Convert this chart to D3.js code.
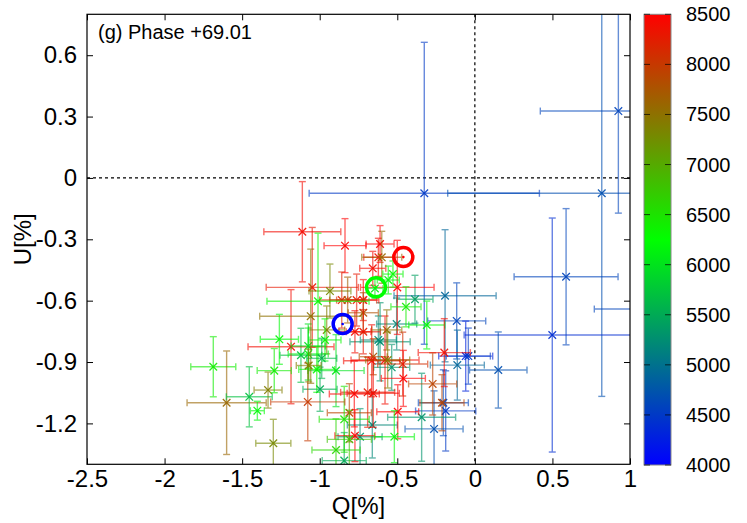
<!DOCTYPE html>
<html><head><meta charset="utf-8">
<script src="https://cdn.jsdelivr.net/npm/d3@7"></script>
<style>
body{margin:0;background:#fff;}
svg{display:block;font-family:"Liberation Sans",Arial,Helvetica,sans-serif;}
</style></head>
<body><svg id="c" width="747" height="523"></svg>
<script>
// ---- data ----
const Q  = [-0.326,0.818,0.925,0.588,0.499,0.151,1.12,-0.192,-0.117,-0.059,-0.042,-0.113,-0.188,-0.203,-0.212,-0.263,-0.343,-0.611,-0.386,-0.504,-0.536,-0.661,-0.740,-0.622,-0.842,-0.998,-1.121,-1.112,-1.048,-1.185,-0.837,-0.611,-0.622,-0.600,-0.658,-0.500,-0.528,-0.558,-0.644,-0.934,-0.858,-0.762,-0.820,-0.719,-0.444,-0.310,-0.719,-0.719,-0.773,-0.955,-0.568,-0.966,-0.655,-0.665,-0.579,-0.562,-0.465,-0.461,-0.272,-0.197,-0.895,-0.777,-0.691,-0.655,-0.809,-0.842,-0.497,-0.773,-0.809,-0.519,-0.895,-1.077,-1.019,-1.074,-1.074,-1.011,-1.058,-1.260,-1.686,-1.600,-1.454,-1.333,-1.402,-1.299,-1.293,-0.987,-1.071];
const U  = [-0.075,-0.075,0.327,-0.483,-0.768,-0.939,-0.641,-0.576,-0.699,-0.871,-0.871,-0.915,-1.139,-1.099,-1.099,-1.227,-1.170,-0.801,-0.593,-0.714,-0.926,-1.208,-1.265,-0.792,-1.382,-1.033,-0.867,-0.263,-0.535,-0.825,-0.331,-0.323,-0.388,-0.388,-0.442,-0.535,-0.470,-0.499,-0.540,-0.553,-0.597,-0.597,-0.597,-0.597,-0.630,-0.719,-0.659,-0.752,-0.752,-0.743,-0.743,-0.792,-0.874,-0.894,-0.890,-0.890,-0.910,-0.980,-1.007,-0.854,-0.942,-1.056,-1.048,-1.053,-1.148,-1.180,-1.143,-1.260,-1.278,-1.265,-1.330,-1.095,-0.936,-0.861,-0.822,-0.603,-0.676,-0.789,-0.923,-1.099,-1.070,-1.037,-1.138,-1.297,-0.942,-0.882,-0.917];
const dQ = [0.742,0.993,0.503,0.335,0.568,0.185,0.35,0.329,0.187,0.174,0.142,0.174,0.194,0.161,0.142,0.187,0.219,0.194,0.116,0.129,0.116,0.161,0.142,0.116,0.142,0.110,0.135,0.248,0.297,0.277,0.135,0.09,0.094,0.129,0.084,0.237,0.065,0.071,0.052,0.135,0.142,0.129,0.116,0.10,0.097,0.116,0.097,0.110,0.103,0.116,0.097,0.103,0.090,0.181,0.219,0.142,0.161,0.142,0.155,0.168,0.181,0.161,0.174,0.168,0.142,0.161,0.135,0.129,0.142,0.129,0.155,0.239,0.116,0.129,0.110,0.329,0.329,0.123,0.145,0.255,0.148,0.090,0.045,0.113,0.110,0.097,0.08];
const dU = [0.738,0.993,0.499,0.333,0.572,0.186,0.35,0.323,0.186,0.171,0.137,0.171,0.196,0.161,0.137,0.186,0.215,0.191,0.117,0.127,0.112,0.161,0.137,0.117,0.137,0.108,0.132,0.245,0.293,0.279,0.132,0.09,0.093,0.127,0.083,0.230,0.064,0.068,0.049,0.132,0.137,0.127,0.112,0.10,0.098,0.117,0.098,0.108,0.103,0.117,0.098,0.103,0.088,0.176,0.215,0.137,0.156,0.137,0.152,0.166,0.176,0.161,0.171,0.166,0.142,0.161,0.132,0.127,0.142,0.127,0.152,0.19,0.112,0.127,0.108,0.333,0.328,0.122,0.147,0.253,0.147,0.088,0.046,0.117,0.108,0.098,0.08];
const wl = [4500,4700,4600,4600,4400,4700,4600,4900,4600,4300,4500,4900,4500,4600,7900,4700,5300,5300,5400,5200,5300,5200,5300,5200,5500,5500,5700,8400,8300,8400,8500,8500,8400,7600,8400,8500,6300,6200,6100,7300,8200,8300,7700,8400,6400,6200,7800,8300,8400,7400,7500,6300,7800,8400,8400,7400,8100,8500,7900,8400,6000,8500,8300,8400,7900,6500,8500,8500,6800,6200,6600,8000,6300,6100,6000,6300,7500,6200,6400,7600,5700,7400,6200,7300,6400,5600,7400];
// band-averaged open circles
const circQ  = [-0.461,-0.637,-0.852];
const circU  = [-0.387,-0.535,-0.714];
const circWl = [8500,6250,4000];
const xTicks = [-2.5,-2,-1.5,-1,-0.5,0,0.5,1];
const yTicks = [0.6,0.3,0,-0.3,-0.6,-0.9,-1.2];
const cTicks = [4000,4500,5000,5500,6000,6500,7000,7500,8000,8500];
const title = "(g) Phase +69.01";

// ---- layout ----
const L=87,R=630,T=14.3,B=464.3;
const svg=d3.select("#c");
const x=d3.scaleLinear().domain([-2.5,1]).range([L,R]);
const y=d3.scaleLinear().domain([-1.4,0.8]).range([B,T]);
const col=d3.scaleLinear().domain([4000,6250,8500]).range(["#0000ff","#00ff00","#ff0000"]).interpolate(d3.interpolateRgb).clamp(true);

svg.append("defs").append("clipPath").attr("id","pc").append("rect")
  .attr("x",L).attr("y",T).attr("width",R-L).attr("height",B-T);

// zero lines
svg.append("line").attr("x1",x(0)).attr("x2",x(0)).attr("y1",T).attr("y2",B)
  .attr("stroke","#000").attr("stroke-width",1.2).attr("stroke-dasharray","3,3");
svg.append("line").attr("x1",L).attr("x2",R).attr("y1",y(0)).attr("y2",y(0))
  .attr("stroke","#000").attr("stroke-width",1.2).attr("stroke-dasharray","3,3");

// data
const g=svg.append("g").attr("clip-path","url(#pc)");
const cap=3.5, mk=3.8;
Q.forEach((q,i)=>{
  const c=col(wl[i]);
  const px=x(q), py=y(U[i]);
  const x0=x(q-dQ[i]), x1=x(q+dQ[i]), y0=y(U[i]-dU[i]), y1=y(U[i]+dU[i]);
  const p=g.append("g");
  const bars=p.append("g").attr("stroke",c).attr("stroke-width",1.4).attr("opacity",0.6);
  bars.append("line").attr("x1",x0).attr("x2",x1).attr("y1",py).attr("y2",py);
  bars.append("line").attr("x1",px).attr("x2",px).attr("y1",y0).attr("y2",y1);
  bars.append("line").attr("x1",x0).attr("x2",x0).attr("y1",py-cap).attr("y2",py+cap);
  bars.append("line").attr("x1",x1).attr("x2",x1).attr("y1",py-cap).attr("y2",py+cap);
  bars.append("line").attr("x1",px-cap).attr("x2",px+cap).attr("y1",y0).attr("y2",y0);
  bars.append("line").attr("x1",px-cap).attr("x2",px+cap).attr("y1",y1).attr("y2",y1);
  p.append("path").attr("d",`M${px-mk},${py-mk}L${px+mk},${py+mk}M${px-mk},${py+mk}L${px+mk},${py-mk}`)
    .attr("stroke",c).attr("stroke-width",1.3).attr("fill","none").attr("opacity",0.9);
});
circQ.forEach((q,i)=>{
  const c=col(circWl[i]);
  g.append("circle").attr("cx",x(q)).attr("cy",y(circU[i])).attr("r",9.5)
    .attr("fill","none").attr("stroke",c).attr("stroke-width",3.5);
  g.append("circle").attr("cx",x(q)).attr("cy",y(circU[i])).attr("r",1.3).attr("fill",c);
});

// axes
const fs=24;
const ax=svg.append("g").attr("transform",`translate(0,${B})`)
  .call(d3.axisBottom(x).tickValues(xTicks).tickSizeInner(-6).tickSizeOuter(0).tickPadding(6).tickFormat(d=>String(d)));
const ay=svg.append("g").attr("transform",`translate(${L},0)`)
  .call(d3.axisLeft(y).tickValues(yTicks).tickSizeInner(-6).tickSizeOuter(0).tickPadding(10).tickFormat(d=>String(d)));
const at=svg.append("g").attr("transform",`translate(0,${T})`)
  .call(d3.axisTop(x).tickValues(xTicks).tickSizeInner(-6).tickSizeOuter(0).tickFormat(""));
const ar=svg.append("g").attr("transform",`translate(${R},0)`)
  .call(d3.axisRight(y).tickValues(yTicks).tickSizeInner(-6).tickSizeOuter(0).tickFormat(""));
[ax,ay,at,ar].forEach(a=>{
  a.select(".domain").remove();
  a.selectAll(".tick line").attr("stroke","#000").attr("stroke-width",1);
  a.selectAll("text").attr("font-size",fs).attr("fill","#000").attr("font-family","Liberation Sans, Arial, sans-serif");
});
svg.append("rect").attr("x",L).attr("y",T).attr("width",R-L).attr("height",B-T)
  .attr("fill","none").attr("stroke","#000").attr("stroke-width",1.2);

// labels
svg.append("text").attr("x",(L+R)/2).attr("y",514).attr("text-anchor","middle")
  .attr("font-size",fs).text("Q[%]");
svg.append("text").attr("transform",`translate(31,${(T+B)/2}) rotate(-90)`).attr("text-anchor","middle")
  .attr("font-size",fs).text("U[%]");
svg.append("text").attr("x",98).attr("y",39).attr("font-size",20).text(title);

// colorbar
const cbX=644,cbW=27,cbT=14.3,cbB=465;
const cs=d3.scaleLinear().domain([4000,8500]).range([cbB,cbT]);
const grad=svg.select("defs").append("linearGradient").attr("id","cg")
  .attr("x1",0).attr("y1",1).attr("x2",0).attr("y2",0);
[4000,6250,8500].forEach(v=>grad.append("stop").attr("offset",(v-4000)/4500).attr("stop-color",col(v)));
svg.append("rect").attr("x",cbX).attr("y",cbT).attr("width",cbW).attr("height",cbB-cbT)
  .attr("fill","url(#cg)").attr("stroke","#888").attr("stroke-width",1);
const cg=svg.append("g");
cTicks.forEach(v=>{
  const yy=cs(v);
  cg.append("line").attr("x1",cbX).attr("x2",cbX+6).attr("y1",yy).attr("y2",yy).attr("stroke","#000").attr("stroke-width",1).attr("opacity",0.7);
  cg.append("line").attr("x1",cbX+cbW-6).attr("x2",cbX+cbW).attr("y1",yy).attr("y2",yy).attr("stroke","#000").attr("stroke-width",1).attr("opacity",0.7);
  cg.append("text").attr("x",686).attr("y",yy).attr("dy","0.35em").attr("font-size",20).text(v);
});
</script></body></html>
